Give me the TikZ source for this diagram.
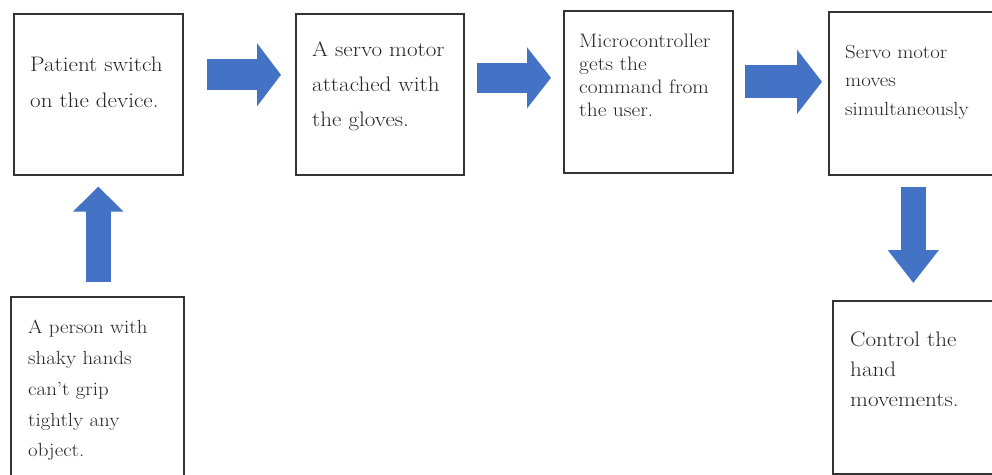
\documentclass[tikz,border=0pt]{standalone}
\usepackage{fontspec}
\setmainfont{Latin Modern Roman}[FakeStretch=1.1]
\usetikzlibrary{arrows.meta}
\definecolor{arrowblue}{HTML}{4472C4}

\begin{document}
\begin{tikzpicture}[x=1pt,y=-1pt,
  stage/.style={draw=black!80,line width=1.6pt,anchor=north west,inner sep=0},
  stagetext/.style={anchor=north west,inner sep=0,align=left,text=black!85},
  bigarrow/.style={arrowblue,line width=#1}]
\useasboundingbox (0,0) rectangle (992,474);
\clip (0,0) rectangle (992,474);
% boxes
\node[stage,minimum width=169,minimum height=161] (switch) at (13,13) {};
\node[stage,minimum width=168,minimum height=161] (servo) at (295,13) {};
\node[stage,minimum width=169,minimum height=162] (micro) at (563,10) {};
\node[stage,minimum width=169,minimum height=163] (moves) at (828,11) {};
\node[stage,minimum width=173,minimum height=190] (person) at (10,296) {};
\node[stage,minimum width=165,minimum height=173] (control) at (832,300) {};
% texts
\node[stagetext,font=\fontsize{21}{36}\selectfont] (switchtext) at (30,56.5) {Patient switch\\on the device.};
\node[stagetext,font=\fontsize{21}{35}\selectfont] (servotext) at (312,41) {A servo motor\\attached with\\the gloves.};
\node[stagetext,font=\fontsize{19.5}{23}\selectfont] (microtext) at (579,33.5) {Microcontroller\\gets the\\command from\\the user.};
\node[stagetext,font=\fontsize{19}{28.5}\selectfont] (movestext) at (845,45) {Servo motor\\moves\\simultaneously};
\node[stagetext,font=\fontsize{19}{30.8}\selectfont] (persontext) at (28,320) {A person with\\shaky hands\\can't grip\\tightly any\\object.};
\node[stagetext,font=\fontsize{21}{30}\selectfont] (controltext) at (850,332) {Control the\\hand\\movements.};
% arrows
\draw[bigarrow=31pt,-{Triangle[width=62pt,length=24pt]},shorten <=23pt,shorten >=14pt]
  ([yshift=19.5pt]switch.east) -- ([yshift=19.5pt]switch.east -| servo.west);
\draw[bigarrow=30pt,-{Triangle[width=60pt,length=24pt]},shorten <=12pt,shorten >=12pt]
  ([yshift=16.5pt]servo.east) -- ([yshift=16.5pt]servo.east -| micro.west);
\draw[bigarrow=33pt,-{Triangle[width=63pt,length=25pt]},shorten <=11pt,shorten >=6pt]
  ([yshift=10pt]micro.east) -- ([yshift=10pt]micro.east -| moves.west);
\draw[bigarrow=25pt,-{Triangle[width=49pt,length=25pt]},shorten <=14pt,shorten >=11pt]
  ([xshift=1pt]person.north) -- ([xshift=1pt]person.north |- switch.south);
\draw[bigarrow=25pt,-{Triangle[width=49pt,length=33pt]},shorten <=11pt,shorten >=17pt]
  (moves.south) -- (moves.south |- control.north);
\end{tikzpicture}
\end{document}
